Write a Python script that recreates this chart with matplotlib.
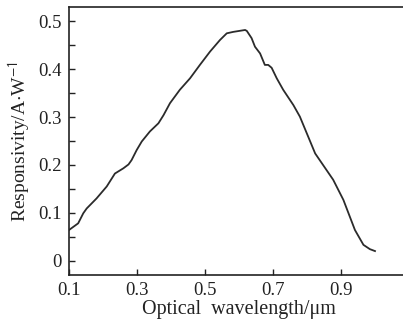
import numpy as np
import matplotlib
matplotlib.use("Agg")
import matplotlib.pyplot as plt
from matplotlib.ticker import MultipleLocator, FuncFormatter

# responsivity curve
wavelength = [0.100, 0.127, 0.142, 0.152, 0.181, 0.211, 0.235, 0.260, 0.275, 0.284,
              0.299, 0.314, 0.338, 0.363, 0.378, 0.397, 0.426, 0.456, 0.485, 0.515,
              0.544, 0.564, 0.583, 0.618, 0.623, 0.637, 0.647, 0.662, 0.676, 0.686,
              0.696, 0.711, 0.730, 0.760, 0.779, 0.824, 0.877, 0.907, 0.941, 0.966,
              0.985, 1.000]
responsivity = [0.064, 0.078, 0.099, 0.109, 0.130, 0.155, 0.182, 0.193, 0.201, 0.210,
                0.231, 0.249, 0.270, 0.287, 0.304, 0.329, 0.357, 0.381, 0.409, 0.437,
                0.461, 0.475, 0.478, 0.482, 0.480, 0.465, 0.447, 0.433, 0.409, 0.409,
                0.403, 0.381, 0.357, 0.325, 0.301, 0.224, 0.169, 0.127, 0.064, 0.033,
                0.024, 0.020]

x_ticks = [0.1, 0.3, 0.5, 0.7, 0.9]
y_ticks = [0, 0.1, 0.2, 0.3, 0.4, 0.5]

plt.rcParams["font.family"] = ["Liberation Serif", "DejaVu Serif"]
plt.rcParams["mathtext.fontset"] = "stix"

fig = plt.figure(figsize=(4.03, 3.22), dpi=100)
ax = fig.add_axes([69 / 403, 47 / 322, 340 / 403, 268 / 322])

ax.plot(wavelength, responsivity, color="#2b2b2b", linewidth=1.3)

ax.set_xlim(0.1, 1.1)
ax.set_ylim(-0.03, 0.53)
ax.set_xticks(x_ticks)
ax.set_yticks(y_ticks)
ax.yaxis.set_minor_locator(MultipleLocator(0.05))
ax.xaxis.set_major_formatter(FuncFormatter(lambda v, p: f"{v:.1f}"))
ax.yaxis.set_major_formatter(FuncFormatter(lambda v, p: "0" if abs(v) < 1e-9 else f"{v:.1f}"))

ax.tick_params(axis="both", which="both", direction="in", labelsize=13.5,
               colors="#222222", width=1.0)
ax.tick_params(axis="both", which="major", length=4)
ax.tick_params(axis="y", which="minor", length=4)
ax.tick_params(axis="x", pad=5)
ax.tick_params(axis="y", pad=5)

for side in ["left", "bottom", "top"]:
    ax.spines[side].set_linewidth(1.2)
    ax.spines[side].set_color("#222222")
ax.spines["right"].set_visible(False)

ax.set_xlabel("Optical  wavelength/μm", fontsize=14.5, color="#222222", labelpad=1)
ax.set_ylabel(r"Responsivity/A$\cdot$W$^{\mathsf{-1}}$", fontsize=14, color="#222222", labelpad=4)

fig.savefig("out.png", dpi=100)
